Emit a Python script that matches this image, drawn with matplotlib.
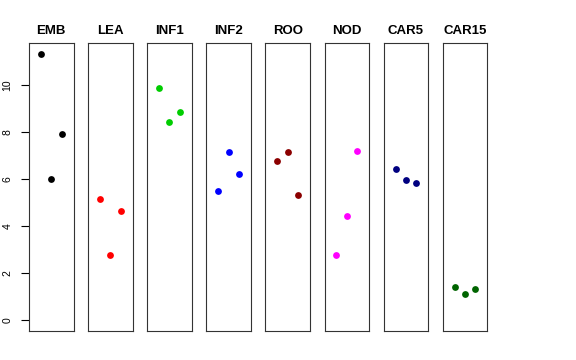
import matplotlib
matplotlib.use("Agg")
import matplotlib.pyplot as plt

# Data
groups = ["EMB", "LEA", "INF1", "INF2", "ROO", "NOD", "CAR5", "CAR15"]
colors = ["#000000", "#FF0000", "#00CD00", "#0000FF", "#8B0000", "#FF00FF", "#000080", "#006400"]
reps = [1, 2, 3]
emb = [11.35, 6.03, 7.91]
lea = [5.18, 2.79, 4.67]
inf1 = [9.87, 8.43, 8.85]
inf2 = [5.49, 7.16, 6.21]
roo = [6.77, 7.16, 5.35]
nod = [2.78, 4.45, 7.20]
car5 = [6.43, 5.97, 5.84]
car15 = [1.40, 1.13, 1.33]
values = [emb, lea, inf1, inf2, roo, nod, car5, car15]

W, H = 576, 360
fig = plt.figure(figsize=(W / 100, H / 100), dpi=100)
plt.rcParams['font.family'] = ['Liberation Sans', 'DejaVu Sans']

ymax = max(max(v) for v in values)
pad = 0.04 * ymax
left0, step, width = 29, 59.1, 44.5
top, bottom = 43, 331

for i, (name, col, vals) in enumerate(zip(groups, colors, values)):
    x0 = left0 + i * step
    ax = fig.add_axes([x0 / W, 1 - bottom / H, width / W, (bottom - top) / H])
    ax.scatter(reps, vals, s=24, color=col, zorder=3, linewidths=0)
    ax.set_xlim(-0.16, 4.16)
    ax.set_ylim(-pad, ymax + pad)
    ax.set_xticks([])
    for sp in ax.spines.values():
        sp.set_linewidth(0.8)
        sp.set_color("#333333")
    ax.set_title(name, fontsize=9.5, fontweight="bold", pad=6.5)
    if i == 0:
        ax.set_yticks([0, 2, 4, 6, 8, 10])
        ax.tick_params(axis="y", length=6, width=0.8, labelsize=7.5, pad=6)
        for lab in ax.get_yticklabels():
            lab.set_rotation(90)
            lab.set_va("center")
    else:
        ax.set_yticks([])

fig.savefig("out.png", dpi=100)
